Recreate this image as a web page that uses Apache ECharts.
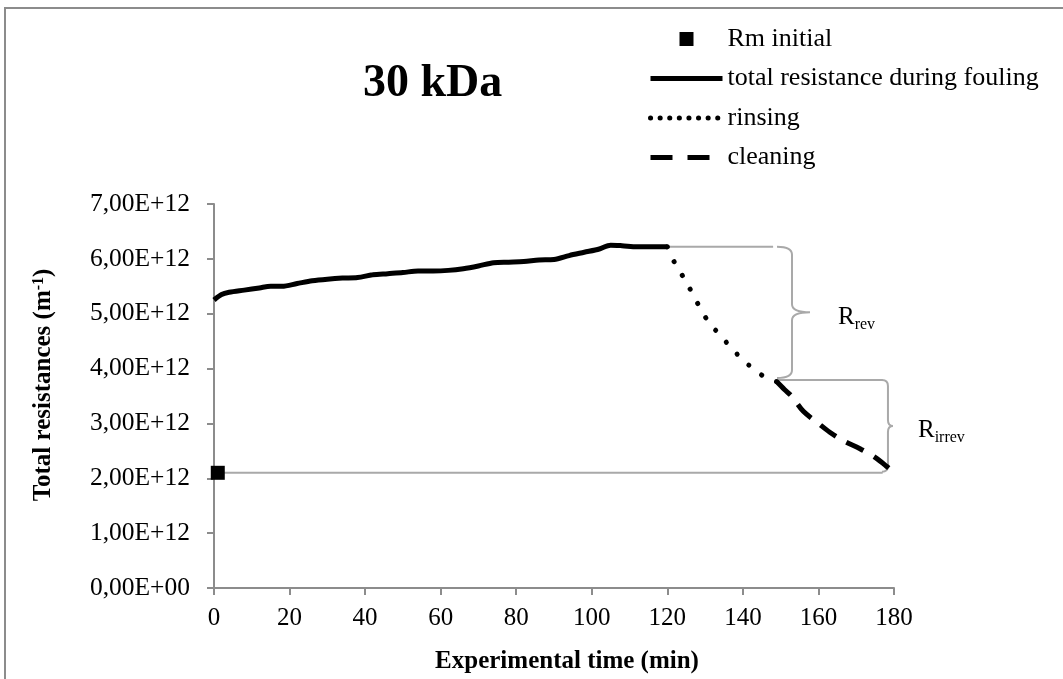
<!DOCTYPE html>
<html>
<head>
<meta charset="utf-8">
<script src="https://cdn.jsdelivr.net/npm/echarts@6/dist/echarts.min.js"></script>
<style>
  html, body { margin: 0; padding: 0; background: #fff; }
  #chart { width: 1063px; height: 679px; }
</style>
</head>
<body>
<div id="chart"></div>
<script>
// values in units of 1E+12 m-1, time in min
const rmInitial = [[1, 2.1]];

const foulingTime = [0, 2, 4, 8, 12, 15, 18, 22, 26, 30, 34, 38, 42, 46, 50, 54, 58, 62, 66, 70, 74, 78, 82, 86, 90, 94, 98, 102, 105, 108, 112, 116, 120];
const foulingR = [5.25, 5.35, 5.39, 5.43, 5.47, 5.50, 5.50, 5.55, 5.60, 5.63, 5.65, 5.66, 5.71, 5.73, 5.75, 5.78, 5.78, 5.79, 5.82, 5.87, 5.93, 5.94, 5.95, 5.98, 5.99, 6.06, 6.12, 6.18, 6.25, 6.24, 6.22, 6.22, 6.22];

const rinsingTime = [120, 122, 125, 128, 131, 134, 137, 140, 143, 146, 149];
const rinsingR = [6.22, 5.92, 5.58, 5.19, 4.84, 4.61, 4.37, 4.16, 3.98, 3.84, 3.76];

const cleaningTime = [149, 151, 153, 156, 160, 163, 167, 171, 175, 178, 180];
const cleaningR = [3.76, 3.62, 3.49, 3.22, 3.0, 2.84, 2.67, 2.54, 2.38, 2.22, 2.1];

// gray guide lines: [x0, x1, y]
const guideLines = [[120, 148, 6.22], [149, 177, 3.79], [1, 177, 2.1]];
// braces: [x, top, bottom]
const braces = [[153, 6.22, 3.83], [178.4, 3.79, 2.12]];
const braceNames = ['rev', 'irrev'];

const seriesNames = ['Rm initial', 'total resistance during fouling', 'rinsing', 'cleaning'];

const font = 'Liberation Serif';
const zip = (xs, ys) => xs.map((x, i) => [x, ys[i]]);

function sci(v) {
  if (v === 0) return '0,00E+00';
  return v.toFixed(2).replace('.', ',') + 'E+12';
}

const braceW = [15, 6];
const braceTip = [18, 5];
const braceGap = [28, 25];

const chart = echarts.init(document.getElementById('chart'));

const guideSeries = guideLines.map(g => ({
  type: 'line',
  silent: true,
  symbol: 'none',
  data: [[g[0], g[2]], [g[1], g[2]]],
  lineStyle: { color: '#a9a9a9', width: 2 },
  z: 1
}));

const noSymbol = { color: 'rgba(0,0,0,0)', borderWidth: 0 };
const legendText = { fontFamily: font, fontSize: 26, color: '#000' };

chart.setOption({
  animation: false,
  backgroundColor: '#fff',
  textStyle: { fontFamily: font },
  graphic: [{
    type: 'rect',
    shape: { x: 5, y: 8, width: 1100, height: 700 },
    style: { fill: 'none', stroke: '#8c8c8c', lineWidth: 2 },
    silent: true
  }],
  title: {
    text: '30 kDa',
    left: 358,
    top: 56,
    textStyle: { fontFamily: font, fontSize: 46, fontWeight: 'bold', color: '#000' }
  },
  legend: {
    orient: 'vertical',
    left: 648,
    top: 26,
    padding: 0,
    itemWidth: 72,
    itemHeight: 14,
    itemGap: 13.5,
    textStyle: legendText,
    data: [
      { name: seriesNames[0], icon: 'path://M0,0L10,0L10,10L0,10Z', itemStyle: { color: '#000', opacity: 1 }, textStyle: legendText },
      { name: seriesNames[1], itemStyle: noSymbol, lineStyle: { width: 5, color: '#000' }, textStyle: legendText },
      { name: seriesNames[2], itemStyle: noSymbol, lineStyle: { type: [0.1, 9.5], cap: 'round', width: 5 }, textStyle: legendText },
      { name: seriesNames[3], itemStyle: noSymbol, lineStyle: { type: [22, 15], width: 5 }, textStyle: legendText }
    ]
  },
  grid: { left: 214, right: 169, top: 204, bottom: 90 },
  xAxis: {
    type: 'value',
    min: 0,
    max: 180,
    interval: 20,
    name: 'Experimental time (min)',
    nameLocation: 'middle',
    nameGap: 61,
    nameTextStyle: { fontFamily: font, fontSize: 25, fontWeight: 'bold', color: '#000', padding: [0, 0, 0, 26] },
    axisLine: { lineStyle: { color: '#8c8c8c', width: 2 } },
    axisTick: { length: 7, lineStyle: { color: '#8c8c8c', width: 2 } },
    axisLabel: { fontFamily: font, fontSize: 25, color: '#000', margin: 18 },
    splitLine: { show: false }
  },
  yAxis: {
    type: 'value',
    min: 0,
    max: 7,
    interval: 1,
    name: 'Total resistances (m{sup|-1})',
    nameLocation: 'middle',
    nameGap: 158,
    nameTextStyle: {
      fontFamily: font, fontSize: 25, fontWeight: 'bold', color: '#000', padding: [0, 0, 0, 22],
      rich: { sup: { fontFamily: font, fontSize: 16, fontWeight: 'bold', color: '#000', verticalAlign: 'top', padding: [0, 0, 8, 0] } }
    },
    axisLine: { show: true, lineStyle: { color: '#8c8c8c', width: 2 } },
    axisTick: { show: true, length: 7, lineStyle: { color: '#8c8c8c', width: 2 } },
    axisLabel: { fontFamily: font, fontSize: 25.5, color: '#000', margin: 24, formatter: sci },
    splitLine: { show: false }
  },
  series: [
    ...guideSeries,
    {
      type: 'custom',
      silent: true,
      data: braces,
      z: 2,
      renderItem: (params, api) => {
        const i = params.dataIndex;
        const x = api.value(0);
        const pt = api.coord([x, api.value(1)]);
        const pb = api.coord([x, api.value(2)]);
        const cx = pt[0], yt = pt[1], yb = pb[1], ym = (yt + yb) / 2;
        const w = braceW[i], tip = braceTip[i], r = Math.min(8, w);
        const d = `M${cx - w},${yt} Q${cx},${yt} ${cx},${yt + r} L${cx},${ym - r} Q${cx},${ym} ${cx + tip},${ym} ` +
          `M${cx + tip},${ym} Q${cx},${ym} ${cx},${ym + r} L${cx},${yb - r} Q${cx},${yb} ${cx - w},${yb}`;
        return {
          type: 'group',
          children: [
            { type: 'path', shape: { pathData: d }, style: { fill: 'none', stroke: '#a9a9a9', lineWidth: 2 } },
            {
              type: 'text',
              style: {
                x: cx + tip + braceGap[i],
                y: ym + 5,
                text: '{r|R}{s|' + braceNames[i] + '}',
                verticalAlign: 'middle',
                rich: {
                  r: { fontFamily: font, fontSize: 25, color: '#000', lineHeight: 30 },
                  s: { fontFamily: font, fontSize: 16, color: '#000', verticalAlign: 'bottom', lineHeight: 30, padding: [12, 0, 0, 0] }
                }
              }
            }
          ]
        };
      }
    },
    {
      name: seriesNames[1],
      type: 'line',
      data: zip(foulingTime, foulingR),
      symbol: 'none',
      smooth: 0.3,
      color: '#000',
      lineStyle: { color: '#000', width: 5 },
      z: 3
    },
    {
      name: seriesNames[2],
      type: 'line',
      data: zip(rinsingTime, rinsingR),
      symbol: 'none',
      smooth: 0.3,
      color: '#000',
      lineStyle: { color: '#000', width: 5, type: [0.1, 16], cap: 'round' },
      z: 3
    },
    {
      name: seriesNames[3],
      type: 'line',
      data: zip(cleaningTime, cleaningR),
      symbol: 'none',
      smooth: 0.3,
      color: '#000',
      lineStyle: { color: '#000', width: 5, type: [19, 12] },
      z: 3
    },
    {
      name: seriesNames[0],
      type: 'scatter',
      data: rmInitial,
      symbol: 'rect',
      symbolSize: 14,
      itemStyle: { color: '#000', opacity: 1 },
      z: 4
    }
  ]
});

window.addEventListener('resize', () => chart.resize());
</script>
</body>
</html>
